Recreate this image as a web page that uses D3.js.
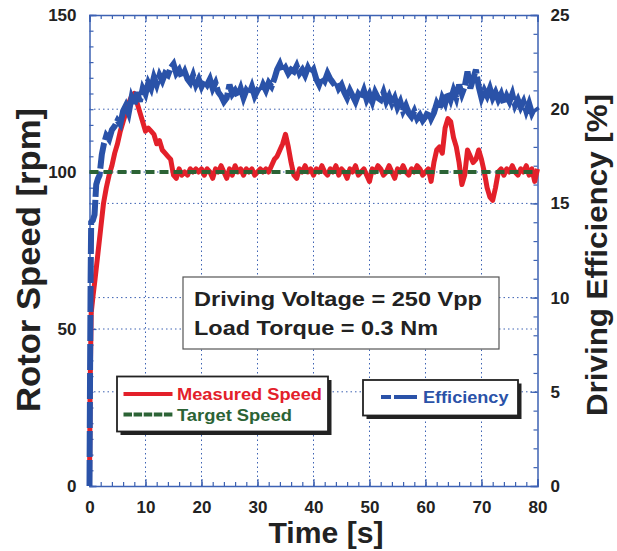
<!DOCTYPE html>
<html>
<head>
<meta charset="utf-8">
<script src="https://cdn.jsdelivr.net/npm/d3@7"></script>
<style>
  body { margin: 0; background: #fff; }
  text { font-family: "Liberation Sans", Arial, sans-serif; font-weight: bold; }
</style>
</head>
<body>
<div id="chart"></div>
<script>
/* ---- data ---- */
const speedTime = [0,0.1,0.3,0.6,1,1.5,2,2.5,3,3.5,4,4.5,5,5.5,6,6.5,7,7.5,8,8.5,9,9.5,10,10.5,11,11.5,12,12.5,13,13.5,14,14.5,15,15.5,16,16.5,17,17.5,18,18.5,19,19.5,20,20.5,21,21.5,22,22.5,23,23.5,24,24.5,25,25.5,26,26.5,27,27.5,28,28.5,29,29.5,30,30.5,31,31.5,32,32.5,33,33.5,34,34.5,35,35.5,36,36.5,37,37.5,38,38.5,39,39.5,40,40.5,41,41.5,42,42.5,43,43.5,44,44.5,45,45.5,46,46.5,47,47.5,48,48.5,49,49.5,50,50.5,51,51.5,52,52.5,53,53.5,54,54.5,55,55.5,56,56.5,57,57.5,58,58.5,59,59.5,60,60.5,61,61.5,62,62.5,63,63.5,64,64.5,65,65.5,66,66.5,67,67.5,68,68.5,69,69.5,70,70.5,71,71.5,72,72.5,73,73.5,74,74.5,75,75.5,76,76.5,77,77.5,78,78.5,79,79.5,80];
const speedValues = [0,30,55,60,66,74,82,90,95,99,102,106,109,113,116,119,122,124,125,122,119,116,113,114,113,112,109,110,107,106,105,104,99,98,101,99,100,99,101,100,101,100,101,99,101,100,98,101,100,102,100,98,101,99,102,100,101,99,101,100,101,99,100,101,100,101,100,102,104,105,107,109,112,108,103,99,98,101,100,102,100,101,99,101,100,102,100,99,101,100,102,99,101,100,98,101,100,102,99,100,101,99,97,101,100,102,101,99,100,102,100,98,101,100,102,100,99,101,100,102,101,99,100,101,97,103,107,108,106,114,117,116,111,108,103,96,99,107,105,103,104,107,104,100,95,92,91,95,100,101,99,101,100,102,100,99,101,100,102,99,101,97,101];
const targetSpeed = 100;

const effTime = [0,0.1,0.2,0.3,0.6,0.9,1.2,1.5,1.8,2.2,2.6,3,3.5,4,4.5,5,5.5,6,6.5,7,7.5,8,8.5,9,9.5,10,10.5,11,11.5,12,12.5,13,13.5,14,14.5,15,15.5,16,16.5,17,17.5,18,18.5,19,19.5,20,20.5,21,21.5,22,22.5,23,23.5,24,24.5,25,25.5,26,26.5,27,27.5,28,28.5,29,29.5,30,30.5,31,31.5,32,32.5,33,33.5,34,34.5,35,35.5,36,36.5,37,37.5,38,38.5,39,39.5,40,40.5,41,41.5,42,42.5,43,43.5,44,44.5,45,45.5,46,46.5,47,47.5,48,48.5,49,49.5,50,50.5,51,51.5,52,52.5,53,53.5,54,54.5,55,55.5,56,56.5,57,57.5,58,58.5,59,59.5,60,60.5,61,61.5,62,62.5,63,63.5,64,64.5,65,65.5,66,66.5,67,67.5,68,68.5,69,69.5,70,70.5,71,71.5,72,72.5,73,73.5,74,74.5,75,75.5,76,76.5,77,77.5,78,78.5,79,79.5,80];
const effValues = [0,6,11,14,14.1,14.4,16,16.3,16.5,17.6,18.2,18.6,18.4,18.9,19.1,19.4,19.2,19.9,20.2,19.8,20.6,20.2,20.9,20.4,21.1,20.8,21.4,21.1,21.7,21.3,21.8,21.5,21.9,21.8,22.2,22.4,21.9,22.1,21.7,22.0,21.6,21.4,21.8,21.3,21.6,21.2,21.5,21.3,21.6,21.1,21.4,20.9,20.7,20.4,20.6,21.3,20.8,21.0,20.7,21.1,20.6,21.0,20.8,21.2,20.7,21.0,20.9,21.3,21.0,21.4,21.2,21.6,22.1,22.4,22.0,22.2,21.9,22.1,22.0,22.3,21.9,22.1,21.8,22.2,21.9,22.1,21.6,21.3,21.7,21.5,21.9,21.6,21.4,21.5,21.1,21.3,20.9,20.6,21.0,20.7,20.4,20.8,20.6,21.0,20.5,20.8,20.4,20.9,20.6,20.5,20.9,20.4,20.7,20.3,20.6,20.1,20.4,19.9,20.2,19.8,19.6,19.9,19.5,19.7,19.4,19.6,19.9,19.5,19.8,20.3,20.0,20.6,20.3,20.9,20.5,21.0,20.6,21.3,20.8,21.2,22.0,21.1,21.6,22.1,21.2,20.6,21.0,20.7,21.1,20.6,20.9,20.5,20.8,20.3,20.7,20.4,20.8,20.2,20.5,20.1,20.4,19.9,20.3,19.8,20.1,19.9];

const xTicks = [0,10,20,30,40,50,60,70,80];
const speedTicks = [0,50,100,150];
const effTicks = [0,5,10,15,20,25];
const infoLines = ["Driving Voltage = 250 Vpp", "Load Torque = 0.3 Nm"];

/* ---- layout ---- */
const W = 617, H = 551;
const RED = '#e3202a', BLUE = '#2a52a8', GREEN = '#2b6335', AXIS = '#3d62b3';

const svg = d3.select('#chart').append('svg').attr('width', W).attr('height', H);

const x = d3.scaleLinear().domain([0, 80]).range([89.5, 537.5]);
const yL = d3.scaleLinear().domain([0, 150]).range([486, 15]);
const yR = d3.scaleLinear().domain([0, 25]).range([486, 15]);

/* grid */
const grid = svg.append('g').attr('stroke', AXIS).attr('stroke-width', 1).attr('stroke-dasharray', '1.5,3');
xTicks.filter(t => t > 0 && t < 80).forEach(t =>
  grid.append('line').attr('x1', x(t)).attr('x2', x(t)).attr('y1', yL(0)).attr('y2', yL(150)));
speedTicks.filter(t => t > 0 && t < 150).forEach(t =>
  grid.append('line').attr('x1', x(0)).attr('x2', x(80)).attr('y1', yL(t)).attr('y2', yL(t)));
effTicks.filter(t => t > 0 && t < 25).forEach(t =>
  grid.append('line').attr('x1', x(0)).attr('x2', x(80)).attr('y1', yR(t)).attr('y2', yR(t)));

/* axes (inward ticks) */
function styleAxis(g) {
  g.select('.domain').attr('stroke', AXIS).attr('stroke-width', 1.5);
  g.selectAll('.tick line').attr('stroke', AXIS).attr('stroke-width', 1.2);
  g.selectAll('text').attr('fill', '#222').style('font-size', '17px').style('font-weight', 'bold')
    .style('font-family', '"Liberation Sans", Arial, sans-serif');
}
function minor(g, axisFn, scale, vals, len) {
  g.append('g').call(axisFn(scale).tickValues(vals).tickSize(len).tickFormat(''))
    .call(s => { s.select('.domain').remove(); s.selectAll('line').attr('stroke', AXIS).attr('stroke-width', 1.2); });
}

const gB = svg.append('g').attr('transform', `translate(0,${yL(0)})`);
gB.call(d3.axisBottom(x).tickValues(xTicks).tickSize(-7).tickPadding(15)).call(styleAxis);
minor(gB, d3.axisBottom, x, d3.range(0, 81, 2), -4);

const gT = svg.append('g').attr('transform', `translate(0,${yL(150)})`);
gT.call(d3.axisTop(x).tickValues(xTicks).tickSize(-7).tickFormat('')).call(styleAxis);
minor(gT, d3.axisTop, x, d3.range(0, 81, 2), -4);

const gL = svg.append('g').attr('transform', `translate(${x(0)},0)`);
gL.call(d3.axisLeft(yL).tickValues(speedTicks).tickSize(-7).tickPadding(13)).call(styleAxis);
minor(gL, d3.axisLeft, yL, d3.range(0, 151, 5), -4);

const gR = svg.append('g').attr('transform', `translate(${x(80)},0)`);
gR.call(d3.axisRight(yR).tickValues(effTicks).tickSize(-7).tickPadding(13)).call(styleAxis);
minor(gR, d3.axisRight, yR, d3.range(0, 26, 1), -4);

/* series */
const speedData = speedTime.map((t, i) => [t, speedValues[i]]);
const effData = effTime.map((t, i) => [t, effValues[i]]);

svg.append('path').datum(speedData)
  .attr('d', d3.line().x(d => x(d[0])).y(d => yL(d[1])))
  .attr('fill', 'none').attr('stroke', RED).attr('stroke-width', 5).attr('stroke-linejoin', 'round');

svg.append('path').datum(effData)
  .attr('d', d3.line().x(d => x(d[0])).y(d => yR(d[1])))
  .attr('fill', 'none').attr('stroke', BLUE).attr('stroke-width', 6).attr('stroke-dasharray', '26,3');

svg.append('line').attr('x1', x(0)).attr('x2', x(80)).attr('y1', yL(targetSpeed)).attr('y2', yL(targetSpeed))
  .attr('stroke', GREEN).attr('stroke-width', 4).attr('stroke-dasharray', '9,5');

/* axis titles */
svg.append('text').attr('transform', 'translate(40,260) rotate(-90)')
  .attr('text-anchor', 'middle').style('font-size', '33px').attr('fill', '#222')
  .attr('textLength', 304).attr('lengthAdjust', 'spacingAndGlyphs').text('Rotor Speed [rpm]');
svg.append('text').attr('transform', 'translate(607,255) rotate(-90)')
  .attr('text-anchor', 'middle').style('font-size', '30px').attr('fill', '#222')
  .attr('textLength', 322).attr('lengthAdjust', 'spacingAndGlyphs').text('Driving Efficiency [%]');
svg.append('text').attr('x', 326).attr('y', 543)
  .attr('text-anchor', 'middle').style('font-size', '30px').attr('fill', '#222')
  .attr('textLength', 115).attr('lengthAdjust', 'spacingAndGlyphs').text('Time [s]');

/* info box */
svg.append('rect').attr('x', 183).attr('y', 277).attr('width', 316).attr('height', 72)
  .attr('fill', '#fff').attr('stroke', '#555').attr('stroke-width', 1.2);
const infoLens = [288, 244];
infoLines.forEach((s, i) => svg.append('text').attr('x', 194).attr('y', 306 + i * 28.5)
  .style('font-size', '21px').attr('fill', '#222')
  .attr('textLength', infoLens[i]).attr('lengthAdjust', 'spacingAndGlyphs').text(s));

/* legends */
function legendBox(x0, y0, w, h) {
  svg.append('rect').attr('x', x0 + 3.5).attr('y', y0 + 3.5).attr('width', w).attr('height', h).attr('fill', '#222');
  svg.append('rect').attr('x', x0).attr('y', y0).attr('width', w).attr('height', h)
    .attr('fill', '#fff').attr('stroke', '#222').attr('stroke-width', 1.8);
}
function legendText(x0, y0, color, len, s) {
  svg.append('text').attr('x', x0).attr('y', y0).style('font-size', '16.5px').attr('fill', color)
    .attr('textLength', len).attr('lengthAdjust', 'spacingAndGlyphs').text(s);
}
legendBox(117, 376.5, 211, 55);
svg.append('line').attr('x1', 123.5).attr('x2', 172.5).attr('y1', 394).attr('y2', 394).attr('stroke', RED).attr('stroke-width', 4);
legendText(177, 400, RED, 145, 'Measured Speed');
svg.append('line').attr('x1', 123.5).attr('x2', 172.5).attr('y1', 414.5).attr('y2', 414.5).attr('stroke', GREEN).attr('stroke-width', 4).attr('stroke-dasharray', '8.5,1.6');
legendText(177, 420.5, GREEN, 115, 'Target Speed');

legendBox(363, 380, 155, 35.5);
svg.append('line').attr('x1', 381).attr('x2', 417).attr('y1', 397).attr('y2', 397).attr('stroke', BLUE).attr('stroke-width', 4).attr('stroke-dasharray', '10,3,30');
legendText(423, 403, BLUE, 85.5, 'Efficiency');
</script>
</body>
</html>
